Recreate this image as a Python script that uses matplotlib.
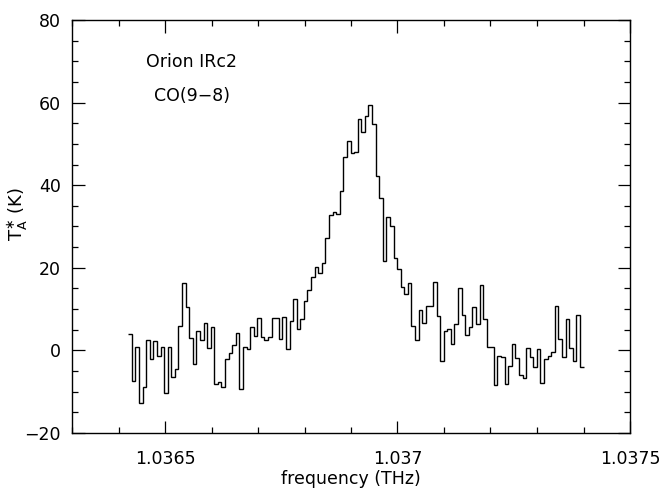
import numpy as np
import matplotlib
matplotlib.use("Agg")
import matplotlib.pyplot as plt
from matplotlib.ticker import MultipleLocator

# ---- data ----
freq_start = 1.036421   # THz, left edge of first channel
freq_stop = 1.037400    # THz, right edge of last channel

ta_star = [
    4.0, -7.3, 0.9, -12.7, -8.9, 2.5, -2.1, 2.2, -1.3, 0.9,
    -10.4, 0.9, -6.5, -4.4, 6.0, 16.4, 10.6, 2.9, -3.3, 4.7,
    2.5, 6.6, 0.7, 5.6, -8.1, -7.7, -8.9, -2.2, -0.7, 1.2,
    4.3, -9.3, 0.9, 0.4,
    5.7, 3.5, 7.8, 3.2, 2.4, 3.2, 7.8, 7.8, 2.7, 8.0,
    0.3, 7.0, 12.4, 5.3, 7.5, 12.0, 14.6, 17.7, 20.1, 18.8,
    21.1, 27.1, 32.8, 33.6, 33.0,
    38.7, 46.9, 50.8, 47.7, 48.1, 56.0, 53.0, 56.8, 59.3, 54.8,
    42.2, 36.8, 21.7, 32.2, 30.1,
    22.3, 19.6, 15.4, 13.7, 16.2, 5.9, 2.5, 9.8, 6.6, 10.8,
    10.8, 16.6, 8.3, -2.5, 4.8, 5.3, 1.5, 6.4, 15.0, 8.6,
    3.7, 5.6, 10.4, 6.4, 15.8, 7.5, 0.9, 0.9, -8.4, -1.4,
    -1.5,
    -8.1, -3.8, 1.6, -1.9, -6.0, -6.8, 0.7, -1.7, -4.1, 0.3,
    -8.0, -2.2, -1.4, -0.3, 10.8, 2.7, -1.7, 7.5, 0.7, -2.5,
    8.6, -3.9,
]

x_ticks = [1.0365, 1.0370, 1.0375]
x_tick_labels = ["1.0365", "1.037", "1.0375"]
y_ticks = [-20, 0, 20, 40, 60, 80]
y_tick_labels = ["\u221220", "0", "20", "40", "60", "80"]

source_name = "Orion IRc2"
line_name = "CO(9\u22128)"

# ---- figure ----
plt.rcParams['font.family'] = ['DejaVu Sans']
fig = plt.figure(figsize=(6.66, 4.88), dpi=100)
ax = fig.add_axes([72 / 666, 1 - 433 / 488, 558 / 666, 413 / 488])

edges = np.linspace(freq_start, freq_stop, len(ta_star) + 1)
ax.stairs(ta_star, edges, baseline=None, color="black", linewidth=1.0)

ax.set_xlim(1.0363, 1.0375)
ax.set_ylim(-20, 80)

ax.set_xticks(x_ticks)
ax.set_xticklabels(x_tick_labels)
ax.set_yticks(y_ticks)
ax.set_yticklabels(y_tick_labels)
ax.xaxis.set_minor_locator(MultipleLocator(0.0001))
ax.yaxis.set_minor_locator(MultipleLocator(5))

ax.tick_params(which="both", direction="in", top=True, right=True,
               width=0.9, colors="black")
ax.tick_params(which="major", length=9, labelsize=12.5)
ax.tick_params(axis="x", which="major", pad=12)
ax.tick_params(axis="y", which="major", pad=8)
ax.tick_params(which="minor", length=4.5)
for s in ax.spines.values():
    s.set_linewidth(1.0)

ax.set_xlabel("frequency (THz)", fontsize=12.5, labelpad=2)
ax.set_ylabel(r"$\mathrm{T}_\mathrm{A}^{\ast}$ (K)", fontsize=13)
ax.yaxis.set_label_coords(-0.075, 0.53)

# annotation placed in axes-fraction coordinates
ax.text((192 - 72) / 558, (433 - 62) / 413, source_name,
        transform=ax.transAxes, ha="center", va="center", fontsize=12.5)
ax.text((192 - 72) / 558, (433 - 96) / 413, line_name,
        transform=ax.transAxes, ha="center", va="center", fontsize=12.5)

fig.savefig("out.png", dpi=100)
